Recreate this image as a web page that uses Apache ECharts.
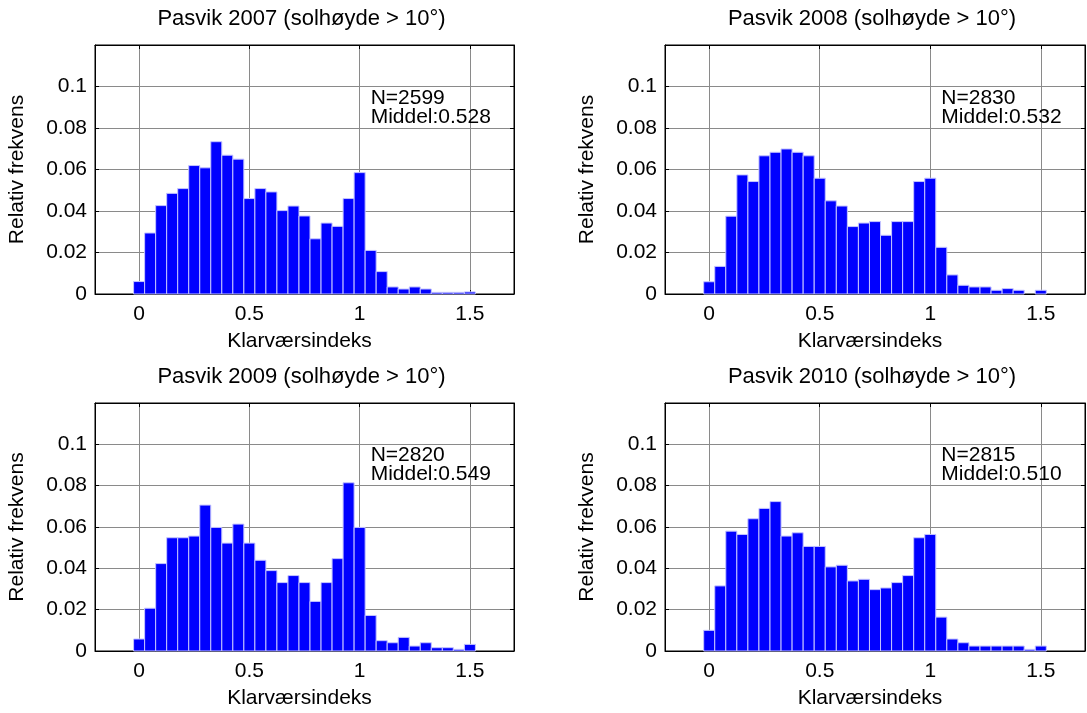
<!DOCTYPE html>
<html>
<head>
<meta charset="utf-8">
<script src="https://cdn.jsdelivr.net/npm/echarts@6/dist/echarts.min.js"></script>
<style>
  html, body { margin: 0; padding: 0; background: #fff; }
  #chart { width: 1087px; height: 713px; }
</style>
</head>
<body>
<div id="chart"></div>
<script>
// Histogram bin centres (clearness index), bin width 0.05
const binCenters = [0, 0.05, 0.1, 0.15, 0.2, 0.25, 0.3, 0.35, 0.4, 0.45, 0.5, 0.55, 0.6, 0.65,
  0.7, 0.75, 0.8, 0.85, 0.9, 0.95, 1.0, 1.05, 1.1, 1.15, 1.2, 1.25, 1.3, 1.35, 1.4, 1.45, 1.5];
const binWidth = 0.05;

// Relative frequency per bin, one array per year
const freq2007 = [0.006, 0.0294, 0.0426, 0.0485, 0.0508, 0.0619, 0.0608, 0.0734, 0.0669, 0.065,
  0.046, 0.0508, 0.0492, 0.0402, 0.0424, 0.0376, 0.0266, 0.0342, 0.0326, 0.046, 0.0585,
  0.021, 0.0108, 0.0034, 0.0024, 0.0034, 0.0024, 0.0008, 0.0008, 0.0008, 0.001];
const freq2008 = [0.0059, 0.0133, 0.0375, 0.0574, 0.0542, 0.0666, 0.0683, 0.0699, 0.0683, 0.0666,
  0.0558, 0.0449, 0.0424, 0.0325, 0.0342, 0.0349, 0.0283, 0.0349, 0.0349, 0.0542, 0.0558,
  0.0225, 0.0092, 0.0042, 0.0034, 0.0034, 0.0018, 0.0026, 0.0018, 0, 0.0018];
const freq2009 = [0.0058, 0.0207, 0.0423, 0.0548, 0.0548, 0.0556, 0.0706, 0.0598, 0.0522, 0.0614,
  0.0522, 0.0439, 0.0389, 0.0331, 0.0365, 0.0331, 0.024, 0.0331, 0.0447, 0.0814, 0.0598,
  0.0172, 0.005, 0.004, 0.0066, 0.0024, 0.004, 0.0016, 0.0016, 0.0008, 0.0032];
const freq2010 = [0.01, 0.0315, 0.058, 0.0564, 0.064, 0.069, 0.0723, 0.0556, 0.0572, 0.0506,
  0.0506, 0.0407, 0.0415, 0.0339, 0.0347, 0.0297, 0.0305, 0.0331, 0.0365, 0.0548, 0.0564,
  0.0164, 0.0058, 0.004, 0.0024, 0.0024, 0.0024, 0.0024, 0.0024, 0.0008, 0.0024];

const years = [2007, 2008, 2009, 2010];
const sampleCounts = [2599, 2830, 2820, 2815];
const meanValues = ['0.528', '0.532', '0.549', '0.510'];
const xTickValues = [0, 0.5, 1, 1.5];
const yTickLabels = ['0', '0.02', '0.04', '0.06', '0.08', '0.1'];

const frequencies = [freq2007, freq2008, freq2009, freq2010];

const FONT = "'Liberation Sans', Arial, Helvetica, sans-serif";
const grids = [
  { left: 95, top: 45, width: 419, height: 249 },
  { left: 665, top: 45, width: 420, height: 249 },
  { left: 95, top: 403, width: 419, height: 248 },
  { left: 665, top: 403, width: 420, height: 248 }
];

const chart = echarts.init(document.getElementById('chart'), null, { renderer: 'canvas' });

const titles = [], xAxes = [], yAxes = [], series = [];

years.forEach(function (year, i) {
  const g = grids[i];
  titles.push({
    text: 'Pasvik ' + year + ' (solhøyde > 10°)',
    left: g.left + g.width / 2 - 3,
    top: g.top - 37,
    textAlign: 'center',
    padding: 0,
    textStyle: { fontFamily: FONT, fontSize: 22, fontWeight: 'normal', color: '#000' }
  });

  // bottom x axis with labels
  xAxes.push({
    gridIndex: i, type: 'value', position: 'bottom', min: -0.2, max: 1.7,
    name: 'Klarværsindeks', nameLocation: 'middle', nameGap: 37,
    nameTextStyle: { fontFamily: FONT, fontSize: 21, color: '#000', padding: [0, 10, 0, 0] },
    axisLine: { show: true, onZero: false, lineStyle: { color: '#000', width: 1 } },
    axisTick: { show: true, inside: true, length: 4, customValues: xTickValues, lineStyle: { color: '#000' } },
    axisLabel: { show: true, margin: 10, customValues: xTickValues, fontFamily: FONT, fontSize: 21, color: '#000',
      formatter: function (v) { return String(Number(v.toFixed(2))); } },
    splitLine: { show: true, lineStyle: { color: '#8a8a8a', width: 1 } }
  });
  // top x axis, ticks only
  xAxes.push({
    gridIndex: i, type: 'value', position: 'top', min: -0.2, max: 1.7,
    axisLine: { show: true, onZero: false, lineStyle: { color: '#000', width: 1 } },
    axisTick: { show: true, inside: true, length: 4, customValues: xTickValues, lineStyle: { color: '#000' } },
    axisLabel: { show: false },
    splitLine: { show: false }
  });

  // left y axis with labels
  yAxes.push({
    gridIndex: i, type: 'value', position: 'left', min: 0, max: 0.12, interval: 0.02,
    name: 'Relativ frekvens', nameLocation: 'middle', nameGap: 67, nameRotate: 90,
    nameTextStyle: { fontFamily: FONT, fontSize: 21, color: '#000' },
    axisLine: { show: true, onZero: false, lineStyle: { color: '#000', width: 1 } },
    axisTick: { show: true, inside: true, length: 4, lineStyle: { color: '#000' } },
    axisLabel: { show: true, margin: 8, fontFamily: FONT, fontSize: 21, color: '#000',
      formatter: function (v) {
        const idx = Math.round(v / 0.02);
        return idx < yTickLabels.length ? yTickLabels[idx] : '';
      } },
    splitLine: { show: true, lineStyle: { color: '#8a8a8a', width: 1 } }
  });
  // right y axis, ticks only
  yAxes.push({
    gridIndex: i, type: 'value', position: 'right', min: 0, max: 0.12, interval: 0.02,
    axisLine: { show: true, onZero: false, lineStyle: { color: '#000', width: 1 } },
    axisTick: { show: true, inside: true, length: 4, lineStyle: { color: '#000' } },
    axisLabel: { show: false },
    splitLine: { show: false }
  });

  const data = binCenters.map(function (c, k) { return [c, frequencies[i][k]]; });
  series.push({
    type: 'custom',
    xAxisIndex: 2 * i, yAxisIndex: 2 * i,
    silent: true,
    data: data,
    encode: { x: 0, y: 1 },
    renderItem: function (params, api) {
      const x = api.value(0), y = api.value(1);
      if (!(y > 0)) return null;
      const p0 = api.coord([x - binWidth / 2, y]);
      const p1 = api.coord([x + binWidth / 2, 0]);
      return {
        type: 'rect',
        shape: { x: p0[0], y: p0[1], width: p1[0] - p0[0], height: p1[1] - p0[1] },
        style: { fill: '#0000ff', stroke: '#c4c4ff', lineWidth: 1 }
      };
    }
  });

  // sample size and mean, anchored in data coordinates
  series.push({
    type: 'scatter',
    xAxisIndex: 2 * i, yAxisIndex: 2 * i,
    silent: true,
    symbolSize: 0,
    itemStyle: { opacity: 1 },
    data: [[1.05, 0.09]],
    label: {
      show: true, position: 'right', distance: 0, align: 'left', verticalAlign: 'middle',
      fontFamily: FONT, fontSize: 21, lineHeight: 19, color: '#000',
      formatter: 'N=' + sampleCounts[i] + '\nMiddel:' + meanValues[i]
    }
  });
});

chart.setOption({
  animation: false,
  backgroundColor: '#fff',
  title: titles,
  grid: grids.map(function (g) {
    return Object.assign({ show: true, borderColor: '#000', borderWidth: 1, backgroundColor: '#fff', containLabel: false }, g);
  }),
  xAxis: xAxes,
  yAxis: yAxes,
  series: series
});
</script>
</body>
</html>
